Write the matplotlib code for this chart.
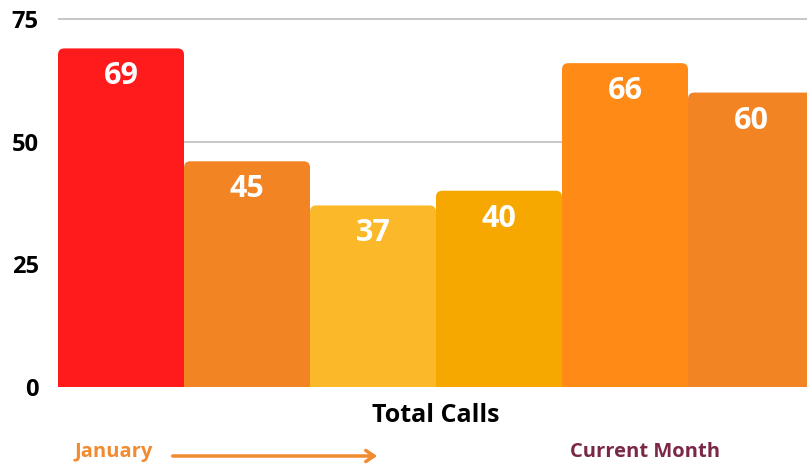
import matplotlib
matplotlib.use("Agg")
import matplotlib.pyplot as plt
from matplotlib.patches import FancyBboxPatch, FancyArrowPatch

plt.rcParams['font.family'] = ['Open Sans', 'DejaVu Sans']

# data
values = [69, 46, 37, 40, 66, 60]
value_labels = ["69", "45", "37", "40", "66", "60"]
bar_colors = ["#FF1A1C", "#F28424", "#FBB829", "#F7A800", "#FF8A15", "#F28424"]
y_ticks = [0, 25, 50, 75]

W, H = 807, 466
fig = plt.figure(figsize=(W / 100, H / 100), dpi=100)

# axes placement in pixels
left_px, base_px, px_per_unit, bar_px = 58, 387, 4.907, 126
y_top = 78
ax = fig.add_axes([left_px / W, (H - base_px) / H,
                   (W - left_px) / W, y_top * px_per_unit / H])
ax.set_xlim(0, (W - left_px) / bar_px)
ax.set_ylim(0, y_top)

for v in [50, 75]:
    ax.axhline(v, color="#BDBDBD", lw=1.2, zorder=0)

aspect = (1 / px_per_unit) / (1 / bar_px)
for i, (v, c) in enumerate(zip(values, bar_colors)):
    p = FancyBboxPatch((i, -3), 1, v + 3,
                       boxstyle="round,pad=0,rounding_size=0.05",
                       mutation_aspect=aspect, fc=c, ec="none", zorder=2)
    ax.add_patch(p)
    ax.text(i + 0.5, v - 28 / px_per_unit, value_labels[i], ha="center",
            va="center", color="white", fontsize=22, fontweight="bold",
            zorder=3)

ax.set_yticks(y_ticks)
ax.set_yticklabels([str(t) for t in y_ticks], fontsize=17, fontweight="bold")
ax.tick_params(axis="y", length=0, pad=14)
ax.set_xticks([])
for s in ax.spines.values():
    s.set_visible(False)

fig.text(436 / W, 1 - 415 / H, "Total Calls", ha="center", va="center",
         fontsize=18, fontweight="bold", color="black")
fig.text(74 / W, 1 - 452 / H, "January", ha="left", va="center",
         fontsize=14.5, fontweight="bold", color="#F28A30")
fig.text(570 / W, 1 - 452 / H, "Current Month", ha="left", va="center",
         fontsize=14.5, fontweight="bold", color="#7A2748")
fig.add_artist(FancyArrowPatch(
    (170 / W, 1 - 456 / H), (380 / W, 1 - 456 / H),
    transform=fig.transFigure, arrowstyle="->,head_length=6,head_width=4",
    color="#F28A30", lw=2.5, mutation_scale=1))

fig.savefig("out.png", dpi=100)
